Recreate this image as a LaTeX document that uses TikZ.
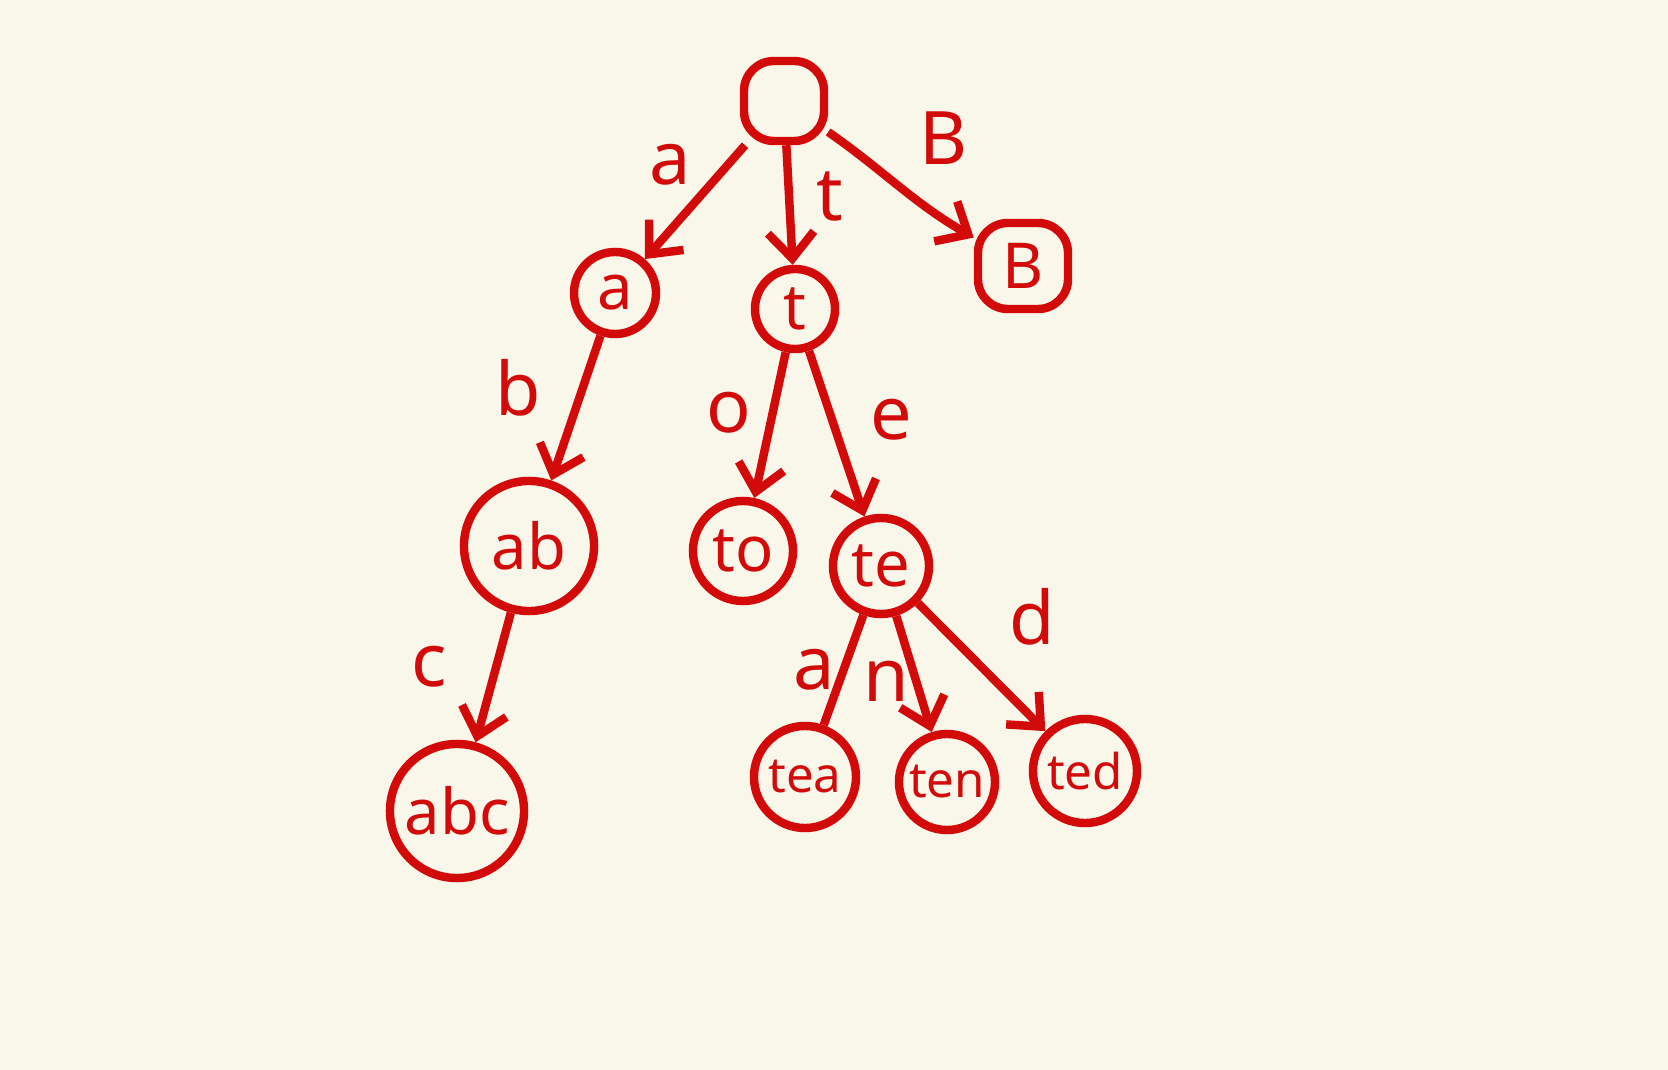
\documentclass[tikz,border=0pt]{standalone}
\usepackage{fontspec}
\setmainfont{Noto Sans}
\usepackage{xcolor}
\usetikzlibrary{arrows.meta}
\definecolor{ink}{HTML}{D20A0A}
\definecolor{paper}{HTML}{F9F6EA}

\begin{document}
\begin{tikzpicture}[x=0.01cm,y=-0.01cm,->,>={Straight Barb[length=2.6mm,width=4.6mm]},line width=2.4pt,color=ink]
  \tikzstyle{state}=[circle,draw,inner sep=0pt,font=\fontsize{18}{22}\selectfont]
  \tikzstyle{leaf}=[state,font=\fontsize{14}{17}\selectfont]
  \tikzstyle{square}=[rectangle,rounded corners=3mm,draw,inner sep=0pt,font=\fontsize{18}{22}\selectfont]
  \tikzstyle{letter}=[inner sep=0pt,font=\fontsize{21}{25}\selectfont]

  % paper
  \fill[paper,-] (0,0) rectangle (1668,1070);
  \useasboundingbox (0,0) rectangle (1668,1070);

  % root and first level
  \node[square,minimum width=0.8cm,minimum height=0.8cm] (root) at (784,101) {};
  \node[state,minimum size=0.82cm] (a) at (615,293) {a};
  \node[state,minimum size=0.8cm] (t) at (795,309) {t};
  \node[square,minimum width=0.9cm,minimum height=0.86cm] (B) at (1023,266) {B};

  % second level
  \node[state,minimum size=1.3cm] (ab) at (529,546) {ab};
  \node[state,minimum size=1.0cm] (to) at (743,551) {to};
  \node[state,minimum size=0.96cm] (te) at (881,566) {te};

  % third level
  \node[state,minimum size=1.34cm] (abc) at (457,811) {abc};
  \node[leaf,minimum size=1.02cm] (tea) at (805,777) {tea};
  \node[leaf,minimum size=0.96cm] (ten) at (947,782) {ten};
  \node[leaf,minimum size=1.04cm] (ted) at (1085,771) {ted};

  % edges
  \draw (root) -- (a);
  \draw (root) -- (t);
  \draw (root) to[out=-35,in=150] (B);
  \draw (a) -- (ab);
  \draw (t) -- (to);
  \draw (t) -- (te);
  \draw (ab) -- (abc);
  \draw[-] (te) -- (tea);
  \draw (te) -- (ten);
  \draw (te) -- (ted);

  % edge letters
  \node[letter] (la) at (670,165) {a};
  \node[letter] (lt) at (830,197) {t};
  \node[letter] (lB) at (944,138) {B};
  \node[letter] (lb) at (518,388) {b};
  \node[letter] (lo) at (729,413) {o};
  \node[letter] (le) at (891,420) {e};
  \node[letter] (lc) at (429,667) {c};
  \node[letter] (la2) at (814,670) {a};
  \node[letter] (ln) at (886,681) {n};
  \node[letter] (ld) at (1032,617) {d};
\end{tikzpicture}
\end{document}
